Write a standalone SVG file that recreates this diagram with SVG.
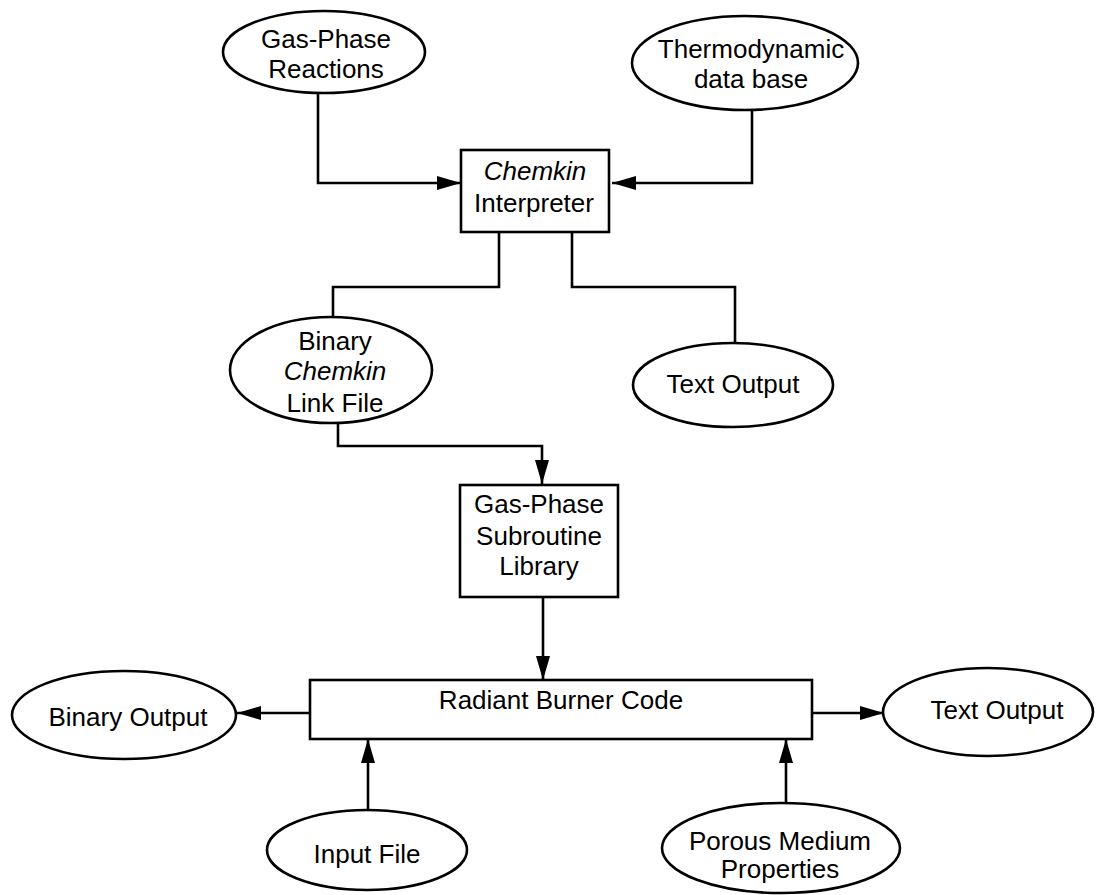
<svg xmlns="http://www.w3.org/2000/svg" width="1096" height="895" viewBox="0 0 1096 895">
<style>
.n{fill:#fff;stroke:#000;stroke-width:2.6}
.t{font-family:"Liberation Sans",Arial,sans-serif;font-size:26px;fill:#000;text-anchor:middle}
.i{font-style:italic}
.c{fill:none;stroke:#000;stroke-width:2.6;stroke-linejoin:miter}
</style>
<defs>
<marker id="ah" markerUnits="userSpaceOnUse" markerWidth="24" markerHeight="14" refX="24" refY="7" orient="auto" overflow="visible">
<path d="M0,0 L24,7 L0,14 z" fill="#000"/>
</marker>
</defs>
<rect width="1096" height="895" fill="#fff"/>
<g id="connectors">
<path class="c" d="M318,93 V183 H461" marker-end="url(#ah)"/>
<path class="c" d="M752,110 V183 H612" marker-end="url(#ah)"/>
<path class="c" d="M499,232 V287 H333 V317"/>
<path class="c" d="M572,232 V287 H735 V343"/>
<path class="c" d="M338,423 V446 H542 V484" marker-end="url(#ah)"/>
<path class="c" d="M543,597 V680" marker-end="url(#ah)"/>
<path class="c" d="M310,713 H237" marker-end="url(#ah)"/>
<path class="c" d="M812,713 H884" marker-end="url(#ah)"/>
<path class="c" d="M368,810 V739" marker-end="url(#ah)"/>
<path class="c" d="M786,804 V739" marker-end="url(#ah)"/>
</g>
<g id="gas-phase-reactions">
<ellipse class="n" cx="324" cy="52" rx="101" ry="41"/>
<text class="t" x="326" y="48">Gas-Phase</text>
<text class="t" x="326" y="78">Reactions</text>
</g>
<g id="thermodynamic">
<ellipse class="n" cx="745" cy="63" rx="113" ry="47"/>
<text class="t" x="751" y="58">Thermodynamic</text>
<text class="t" x="751" y="88">data base</text>
</g>
<g id="chemkin-interpreter">
<rect class="n" x="461" y="150" width="148" height="82"/>
<text class="t i" x="535" y="180">Chemkin</text>
<text class="t" x="534" y="212">Interpreter</text>
</g>
<g id="binary-chemkin-link">
<ellipse class="n" cx="331" cy="370" rx="101" ry="53"/>
<text class="t" x="335" y="350">Binary</text>
<text class="t i" x="335" y="380">Chemkin</text>
<text class="t" x="335" y="412">Link File</text>
</g>
<g id="text-output-1">
<ellipse class="n" cx="733" cy="385" rx="100" ry="42"/>
<text class="t" x="733" y="393">Text Output</text>
</g>
<g id="subroutine-library">
<rect class="n" x="460" y="485" width="158" height="112"/>
<text class="t" x="539" y="513">Gas-Phase</text>
<text class="t" x="539" y="545">Subroutine</text>
<text class="t" x="539" y="575">Library</text>
</g>
<g id="radiant-burner-code">
<rect class="n" x="310" y="680" width="502" height="59"/>
<text class="t" x="561" y="709">Radiant Burner Code</text>
</g>
<g id="binary-output">
<ellipse class="n" cx="124" cy="715" rx="112" ry="44"/>
<text class="t" x="128" y="726">Binary Output</text>
</g>
<g id="text-output-2">
<ellipse class="n" cx="988" cy="712" rx="105" ry="44"/>
<text class="t" x="997" y="719">Text Output</text>
</g>
<g id="input-file">
<ellipse class="n" cx="367" cy="850" rx="100" ry="40"/>
<text class="t" x="367" y="863">Input File</text>
</g>
<g id="porous-medium">
<ellipse class="n" cx="781" cy="848" rx="119" ry="45"/>
<text class="t" x="780" y="850">Porous Medium</text>
<text class="t" x="780" y="878">Properties</text>
</g>
</svg>
